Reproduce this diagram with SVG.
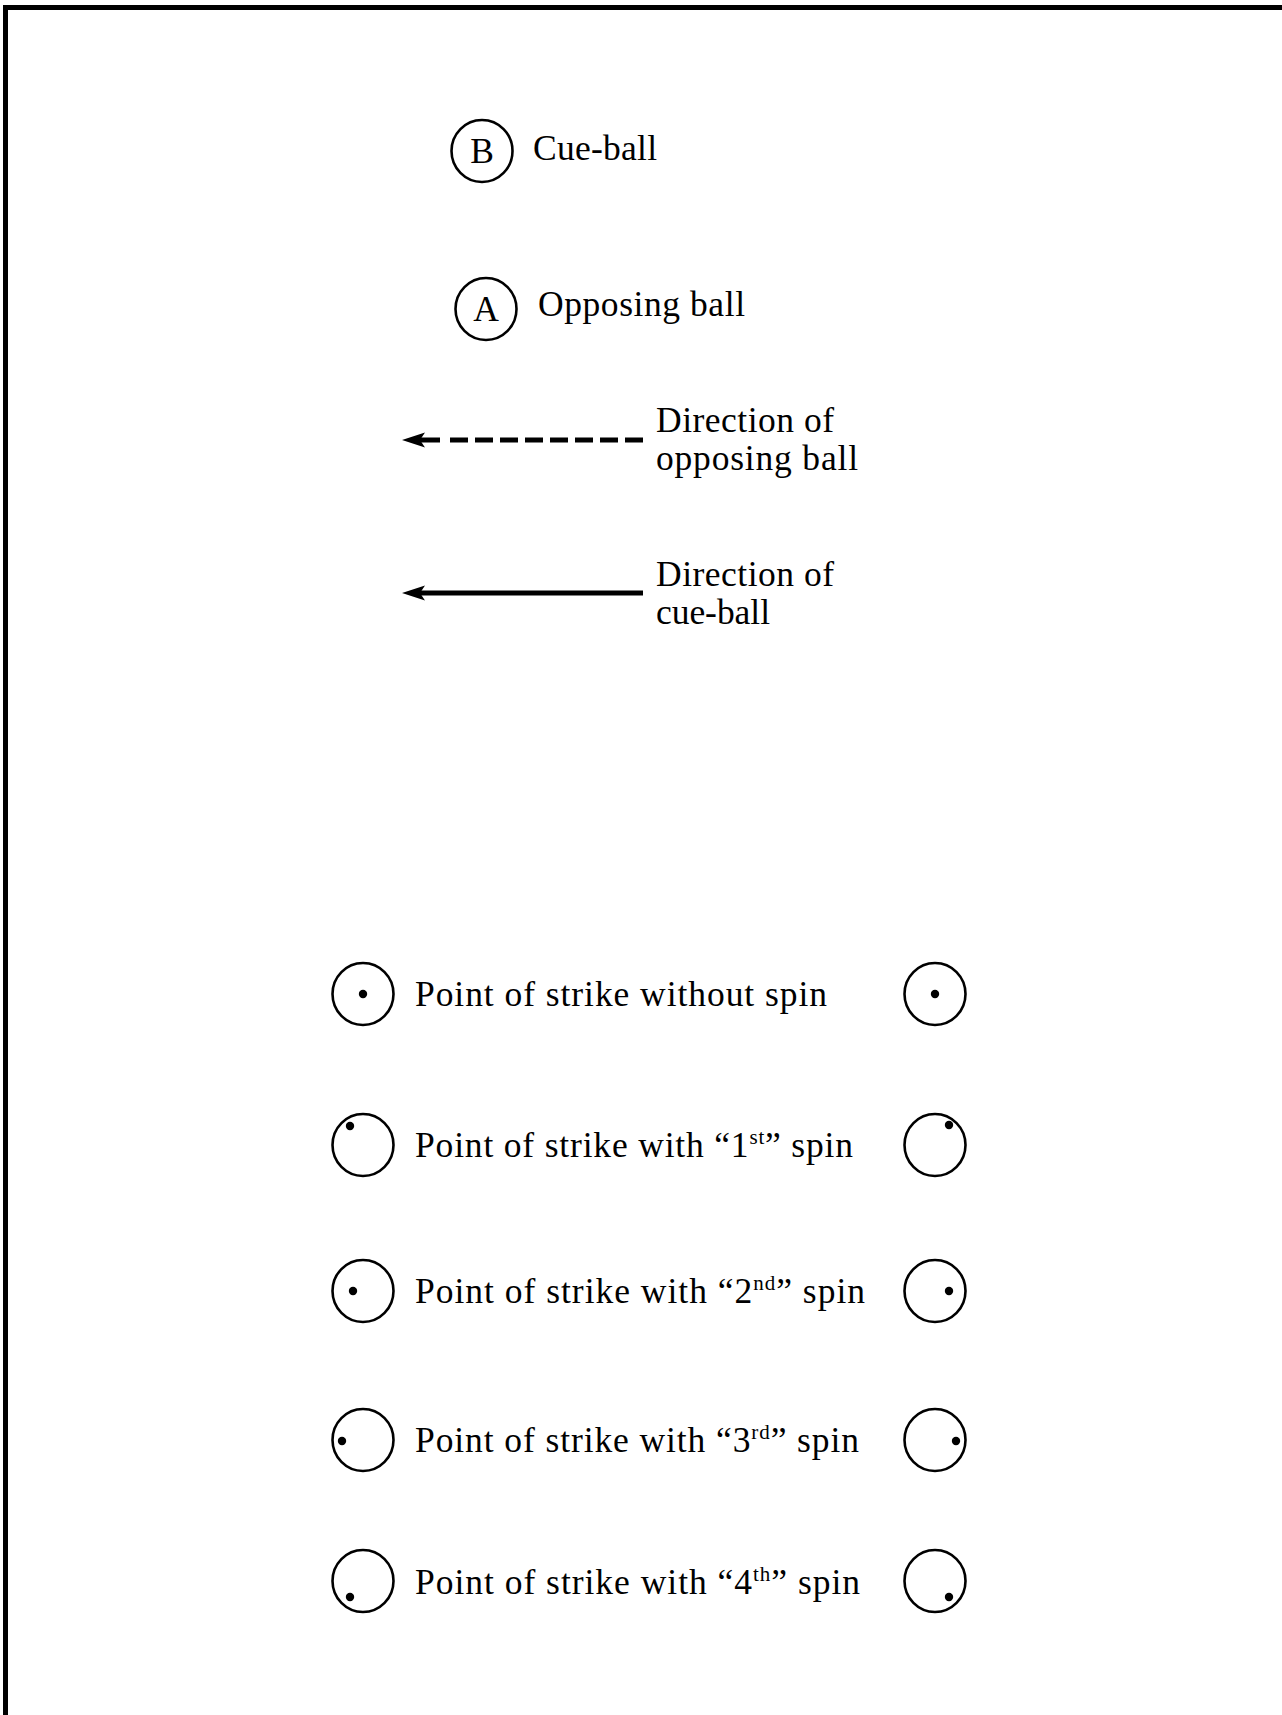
<svg xmlns="http://www.w3.org/2000/svg" width="1282" height="1715" viewBox="0 0 1282 1715">
  <style>
    .t { font-family: "Liberation Serif", "Times New Roman", serif; font-size: 35.5px; fill: #000; }
    .sup { font-size: 21px; }
    .ball { fill: none; stroke: #000; stroke-width: 2.6; }
    .dot { fill: #000; }
    .arrow { fill: none; stroke: #000; stroke-width: 5; }
    .frame { stroke: #000; stroke-width: 5; fill: none; }
  </style>
  <defs>
    <marker id="head" markerUnits="userSpaceOnUse" markerWidth="30" markerHeight="20" viewBox="0 -10 30 20" refX="8" refY="0" orient="auto">
      <path d="M0,-7.5 L23,0 L0,7.5 L5,0 Z" fill="#000"/>
    </marker>
  </defs>
  <rect width="1282" height="1715" fill="#fff"/>
  <g id="frame">
    <line class="frame" x1="3" y1="7.5" x2="1282" y2="7.5"/>
    <line class="frame" x1="5.5" y1="5" x2="5.5" y2="1715"/>
  </g>

  <g id="legend-cue-ball">
    <ellipse class="ball" cx="482" cy="151" rx="30.5" ry="31"/>
    <text class="t" x="482" y="163" text-anchor="middle">B</text>
    <text class="t" x="533" y="160" textLength="124" lengthAdjust="spacing">Cue-ball</text>
  </g>
  <g id="legend-opposing-ball">
    <ellipse class="ball" cx="486" cy="309" rx="30.5" ry="31"/>
    <text class="t" x="486" y="321" text-anchor="middle">A</text>
    <text class="t" x="538" y="316" textLength="207" lengthAdjust="spacing">Opposing ball</text>
  </g>

  <g id="connectors">
    <path class="arrow" d="M643,440 H417" stroke-dasharray="18 7 18 7 18 7 18 7 18 7 18 7 18 7 18 10 40" marker-end="url(#head)"/>
    <path class="arrow" d="M643,593 H417" marker-end="url(#head)"/>
  </g>
  <g id="legend-direction-opposing">
    <text class="t" x="656" y="432" textLength="178" lengthAdjust="spacing">Direction of</text>
    <text class="t" x="656" y="470" textLength="202" lengthAdjust="spacing">opposing ball</text>
  </g>
  <g id="legend-direction-cue">
    <text class="t" x="656" y="586" textLength="178" lengthAdjust="spacing">Direction of</text>
    <text class="t" x="656" y="624" textLength="114" lengthAdjust="spacing">cue-ball</text>
  </g>

  <g id="row-no-spin">
    <ellipse class="ball" cx="363" cy="994" rx="30.5" ry="31"/>
    <circle class="dot" cx="363" cy="994" r="4.2"/>
    <text class="t" x="415" y="1006" textLength="412" lengthAdjust="spacing">Point of strike without spin</text>
    <ellipse class="ball" cx="935" cy="994" rx="30.5" ry="31"/>
    <circle class="dot" cx="935" cy="994" r="4.2"/>
  </g>
  <g id="row-spin-1">
    <ellipse class="ball" cx="363" cy="1145" rx="30.5" ry="31"/>
    <circle class="dot" cx="350" cy="1126" r="4.2"/>
    <text class="t" x="415" y="1157" textLength="438" lengthAdjust="spacing">Point of strike with “1<tspan class="sup" dy="-13">st</tspan><tspan dy="13">” spin</tspan></text>
    <ellipse class="ball" cx="935" cy="1145" rx="30.5" ry="31"/>
    <circle class="dot" cx="949" cy="1125" r="4.2"/>
  </g>
  <g id="row-spin-2">
    <ellipse class="ball" cx="363" cy="1291" rx="30.5" ry="31"/>
    <circle class="dot" cx="353" cy="1291" r="4.2"/>
    <text class="t" x="415" y="1303" textLength="450" lengthAdjust="spacing">Point of strike with “2<tspan class="sup" dy="-13">nd</tspan><tspan dy="13">” spin</tspan></text>
    <ellipse class="ball" cx="935" cy="1291" rx="30.5" ry="31"/>
    <circle class="dot" cx="949" cy="1291" r="4.2"/>
  </g>
  <g id="row-spin-3">
    <ellipse class="ball" cx="363" cy="1440" rx="30.5" ry="31"/>
    <circle class="dot" cx="342" cy="1441" r="4.2"/>
    <text class="t" x="415" y="1452" textLength="444" lengthAdjust="spacing">Point of strike with “3<tspan class="sup" dy="-13">rd</tspan><tspan dy="13">” spin</tspan></text>
    <ellipse class="ball" cx="935" cy="1440" rx="30.5" ry="31"/>
    <circle class="dot" cx="956" cy="1441" r="4.2"/>
  </g>
  <g id="row-spin-4">
    <ellipse class="ball" cx="363" cy="1581" rx="30.5" ry="31"/>
    <circle class="dot" cx="350" cy="1597" r="4.2"/>
    <text class="t" x="415" y="1594" textLength="445" lengthAdjust="spacing">Point of strike with “4<tspan class="sup" dy="-13">th</tspan><tspan dy="13">” spin</tspan></text>
    <ellipse class="ball" cx="935" cy="1581" rx="30.5" ry="31"/>
    <circle class="dot" cx="949" cy="1597" r="4.2"/>
  </g>
</svg>
